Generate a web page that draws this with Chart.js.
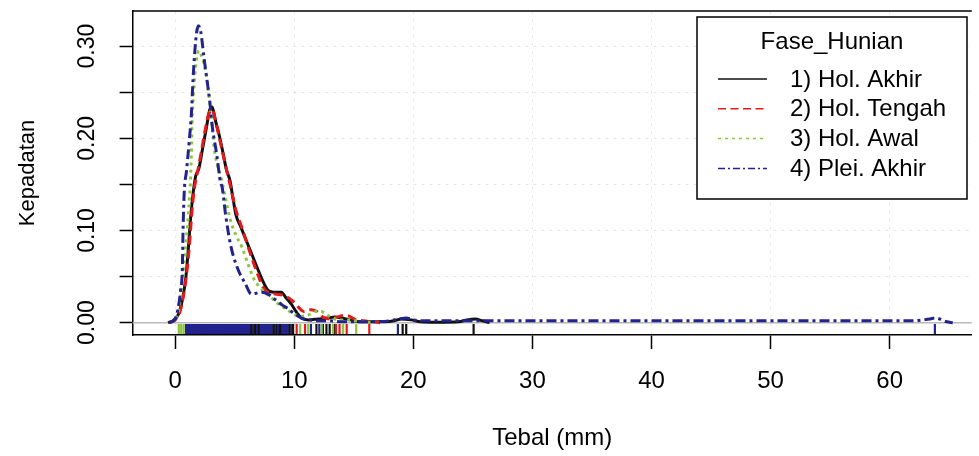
<!DOCTYPE html>
<html>
<head>
<meta charset="utf-8">
<script src="https://cdn.jsdelivr.net/npm/chart.js@4.4.0/dist/chart.umd.min.js"></script>
<style>
  html, body { margin: 0; padding: 0; background: #fff; }
  #wrap { width: 979px; height: 456px; }
</style>
</head>
<body>
<div id="wrap"><canvas id="densityChart" width="979" height="456"></canvas></div>
<script>
// tick values dan label sumbu
const xTickValues = [0, 10, 20, 30, 40, 50, 60];
const xTickLabels = ["0", "10", "20", "30", "40", "50", "60"];
const yTickValues = [0, 0.05, 0.10, 0.15, 0.20, 0.25, 0.30];
const yTickLabels = ["0.00", "", "0.10", "", "0.20", "", "0.30"];

const legendTitle = "Fase_Hunian";
const seriesNames = ["1) Hol. Akhir", "2) Hol. Tengah", "3) Hol. Awal", "4) Plei. Akhir"];

// kurva densitas
const akhirX = [-0.6, -0.2, 0.3, 0.6, 0.9, 1.1, 1.3, 1.5, 1.7, 2.0, 2.3, 2.6, 2.9, 3.1, 3.4, 3.7, 4.0, 4.3, 4.6, 4.85, 5.1, 5.5, 6.0, 6.5, 7.0, 7.4, 7.8, 8.3, 8.9, 9.3, 9.75, 10.2, 10.6, 11.2, 12.0, 12.8, 13.4, 14.0, 14.7, 15.5, 16.5, 17.6, 18.4, 19.0, 19.8, 20.6, 22.0, 23.8, 24.5, 25.2, 25.8, 26.4];
const akhirY = [0, 0.002, 0.010, 0.025, 0.050, 0.080, 0.115, 0.140, 0.158, 0.168, 0.189, 0.210, 0.231, 0.234, 0.218, 0.203, 0.185, 0.166, 0.154, 0.135, 0.117, 0.104, 0.088, 0.072, 0.056, 0.044, 0.035, 0.033, 0.033, 0.027, 0.020, 0.011, 0.005, 0.003, 0.004, 0.005, 0.006, 0.005, 0.003, 0.001, 0.001, 0.001, 0.002, 0.004, 0.003, 0.001, 0.0005, 0.001, 0.003, 0.004, 0.002, 0];

const tengahX = [-0.5, 0.0, 0.4, 0.7, 1.0, 1.2, 1.4, 1.6, 1.9, 2.2, 2.5, 2.8, 3.1, 3.4, 3.8, 4.2, 4.6, 5.1, 5.6, 6.1, 6.6, 7.0, 7.3, 7.8, 8.4, 9.0, 9.5, 9.9, 10.4, 10.8, 11.4, 11.9, 12.4, 13.0, 13.6, 14.2, 14.6, 15.2, 15.8, 16.5, 17.2];
const tengahY = [0, 0.003, 0.012, 0.030, 0.058, 0.085, 0.120, 0.145, 0.165, 0.186, 0.208, 0.226, 0.231, 0.218, 0.195, 0.172, 0.150, 0.122, 0.103, 0.083, 0.064, 0.050, 0.040, 0.033, 0.031, 0.030, 0.027, 0.023, 0.016, 0.012, 0.014, 0.012, 0.006, 0.004, 0.006, 0.008, 0.007, 0.003, 0.002, 0.001, 0];

const awalX = [-0.4, 0.0, 0.33, 0.55, 0.75, 1.0, 1.2, 1.3, 1.35, 1.44, 1.58, 1.75, 2.0, 2.2, 2.56, 2.83, 3.05, 3.25, 3.5, 3.8, 4.2, 4.64, 5.1, 5.6, 6.1, 6.7, 7.0, 7.5, 8.0, 8.4, 8.9, 9.4, 9.75, 10.2, 10.7, 11.3, 11.8, 12.25, 12.8, 13.4, 14.0, 14.6, 15.2, 15.8, 16.4];
const awalY = [0, 0.004, 0.016, 0.040, 0.064, 0.100, 0.135, 0.160, 0.181, 0.225, 0.257, 0.282, 0.295, 0.290, 0.272, 0.247, 0.220, 0.192, 0.173, 0.160, 0.136, 0.111, 0.095, 0.082, 0.064, 0.045, 0.040, 0.033, 0.028, 0.023, 0.018, 0.014, 0.011, 0.008, 0.007, 0.009, 0.012, 0.012, 0.008, 0.004, 0.003, 0.003, 0.002, 0.001, 0];

const pleiX = [-0.5, 0.0, 0.2, 0.45, 0.6, 0.65, 0.75, 0.95, 1.17, 1.35, 1.5, 1.65, 1.8, 1.95, 2.15, 2.42, 2.69, 2.9, 3.1, 3.5, 3.8, 3.94, 4.22, 4.64, 5.2, 5.9, 6.4, 6.8, 7.25, 7.8, 8.5, 9.0, 9.5, 10.06, 10.6, 11.3, 12.0, 13.0, 14.0, 16.0, 18.0, 18.8, 19.4, 20.0, 21.0, 23.0, 26.0, 40.0, 55.0, 62.0, 62.8, 63.4, 63.8, 64.2, 64.8, 65.3];
const pleiY = [0, 0.004, 0.013, 0.035, 0.060, 0.096, 0.140, 0.165, 0.196, 0.225, 0.265, 0.295, 0.315, 0.322, 0.315, 0.287, 0.261, 0.240, 0.214, 0.181, 0.152, 0.147, 0.118, 0.085, 0.060, 0.042, 0.031, 0.032, 0.033, 0.031, 0.024, 0.019, 0.015, 0.009, 0.005, 0.003, 0.002, 0.002, 0.001, 0.001, 0.002, 0.004, 0.005, 0.003, 0.002, 0.002, 0.002, 0.002, 0.002, 0.002, 0.003, 0.004, 0.005, 0.004, 0.001, 0];

// rug (pengamatan)
const akhirRug = [6.4, 6.7, 7.0, 8.25, 8.5, 8.8, 9.6, 9.9, 11.86, 12.4, 12.7, 12.97, 13.4, 19.1, 19.4, 25.06];
const tengahRug = [10.2, 10.9, 13.5, 13.8, 14.4, 16.3];
const awalRug = [0.3, 0.5, 0.7, 10.5, 11.17, 12.3, 13.25, 14.1, 15.2];
const pleiRug = [0.9, 1.0, 1.1, 1.2, 1.3, 1.4, 1.5, 1.6, 1.7, 1.8, 1.9, 2.0, 2.1, 2.2, 2.3, 2.4, 2.5, 2.6, 2.7, 2.8, 2.9, 3.0, 3.1, 3.2, 3.3, 3.4, 3.5, 3.6, 3.7, 3.8, 3.9, 4.0, 4.1, 4.2, 4.3, 4.4, 4.5, 4.6, 4.7, 4.8, 4.9, 5.0, 5.1, 5.2, 5.3, 5.4, 5.5, 5.6, 5.7, 5.8, 5.9, 6.0, 6.1, 6.2, 6.3, 6.55, 6.85, 7.1, 7.2, 7.3, 7.4, 7.5, 7.6, 7.7, 7.8, 7.9, 8.0, 8.1, 8.35, 8.65, 8.95, 9.05, 9.15, 9.25, 9.35, 9.45, 9.75, 11.4, 12.1, 18.7, 63.8];
const RUG_Y = -0.0069;

const FONT = "'Liberation Sans', Arial, sans-serif";
const colors = ["#111111", "#e3191c", "#8cc63f", "#23238e"];

const toPoints = (xs, ys) => xs.map((x, i) => ({ x: x, y: ys[i] }));
const toRug = (xs) => xs.map((x) => ({ x: x, y: RUG_Y }));

function rugSet(data, color, order) {
    return {
        data: toRug(data),
        showLine: false,
        pointStyle: "line",
        pointRotation: 90,
        pointRadius: 5,
        pointHoverRadius: 5,
        pointBorderWidth: 2.2,
        pointBorderColor: color,
        borderColor: color,
        order: order,
        isRug: true,
    };
}

// bingkai plot + garis nol
const framePlugin = {
    id: "frame",
    beforeDatasetsDraw(chart) {
        const { ctx, chartArea } = chart;
        const y0 = chart.scales.y.getPixelForValue(0);
        ctx.save();
        ctx.strokeStyle = "#b8b8b8";
        ctx.lineWidth = 1.5;
        ctx.beginPath();
        ctx.moveTo(chartArea.left, y0);
        ctx.lineTo(chartArea.right, y0);
        ctx.stroke();
        ctx.restore();
    },
    afterDraw(chart) {
        const { ctx, chartArea } = chart;
        ctx.save();
        ctx.strokeStyle = "#000";
        ctx.lineWidth = 1.5;
        ctx.beginPath();
        ctx.moveTo(chartArea.left, chartArea.top);
        ctx.lineTo(chartArea.right, chartArea.top);
        ctx.stroke();
        ctx.restore();
    },
};

// legenda di dalam plot
const legendBox = {
    id: "legendBox",
    afterDraw(chart) {
        const ctx = chart.ctx;
        const box = { left: 697, top: 17, right: 967, bottom: 199 };
        ctx.save();
        ctx.fillStyle = "#fff";
        ctx.fillRect(box.left, box.top, box.right - box.left, box.bottom - box.top);
        ctx.strokeStyle = "#000";
        ctx.lineWidth = 1.5;
        ctx.strokeRect(box.left, box.top, box.right - box.left, box.bottom - box.top);

        ctx.fillStyle = "#000";
        ctx.font = "24px " + FONT;
        ctx.textAlign = "center";
        ctx.textBaseline = "middle";
        ctx.fillText(legendTitle, (box.left + box.right) / 2, 42);

        ctx.textAlign = "left";
        chart.data.datasets.filter((d) => !d.isRug).forEach((ds, i) => {
            const y = 79 + i * 29.8;
            ctx.strokeStyle = ds.borderColor;
            ctx.lineWidth = 1.5;
            ctx.setLineDash(ds.legendDash);
            ctx.beginPath();
            ctx.moveTo(718, y);
            ctx.lineTo(767, y);
            ctx.stroke();
            ctx.setLineDash([]);
            ctx.fillStyle = "#000";
            ctx.fillText(ds.label, 790, y + 1);
        });
        ctx.restore();
    },
};

const ctx = document.getElementById("densityChart").getContext("2d");
new Chart(ctx, {
    type: "line",
    data: {
        datasets: [
            {
                label: seriesNames[0],
                data: toPoints(akhirX, akhirY),
                borderColor: colors[0],
                borderWidth: 3,
                borderDash: [],
                legendDash: [],
                order: 4,
            },
            {
                label: seriesNames[1],
                data: toPoints(tengahX, tengahY),
                borderColor: colors[1],
                borderWidth: 3,
                borderDash: [9, 5],
                legendDash: [8, 4.5],
                order: 3,
            },
            {
                label: seriesNames[2],
                data: toPoints(awalX, awalY),
                borderColor: colors[2],
                borderWidth: 3,
                borderDash: [3, 4],
                legendDash: [3, 4],
                order: 2,
            },
            {
                label: seriesNames[3],
                data: toPoints(pleiX, pleiY),
                borderColor: colors[3],
                borderWidth: 3,
                borderDash: [10, 4, 3, 4],
                legendDash: [7, 3, 2, 3],
                order: 1,
            },
            rugSet(pleiRug, colors[3], 8),
            rugSet(akhirRug, colors[0], 7),
            rugSet(tengahRug, colors[1], 6),
            rugSet(awalRug, colors[2], 5),
        ],
    },
    options: {
        responsive: false,
        animation: false,
        layout: { padding: { top: 11, left: 0, right: 0, bottom: 0 } },
        elements: {
            line: { tension: 0.3, cubicInterpolationMode: "monotone", fill: false },
            point: { radius: 0 },
        },
        plugins: {
            legend: { display: false },
            tooltip: { enabled: false },
        },
        scales: {
            x: {
                type: "linear",
                min: -3.58,
                max: 66.9,
                afterBuildTicks: (s) => {
                    s.ticks = xTickValues.map((v) => ({ value: v }));
                },
                border: { display: true, color: "#000", width: 1.5, dash: [3, 5] },
                grid: {
                    color: "rgba(0,0,0,0.08)",
                    tickLength: 14,
                    tickColor: "#000",
                    tickWidth: 1.5,
                    tickBorderDash: [],
                },
                ticks: {
                    color: "#000",
                    font: { family: FONT, size: 24 },
                    padding: 18,
                    minRotation: 0,
                    maxRotation: 0,
                    autoSkip: false,
                    callback: (v, i) => xTickLabels[i],
                },
                title: {
                    display: true,
                    text: "Tebal (mm)",
                    color: "#000",
                    font: { family: FONT, size: 24 },
                    padding: { top: 9.8, bottom: 3.6 },
                },
            },
            y: {
                type: "linear",
                min: -0.0134,
                max: 0.3381,
                afterBuildTicks: (s) => {
                    s.ticks = yTickValues.map((v) => ({ value: v }));
                },
                afterFit: (s) => {
                    s.paddingTop = 0;
                    s.paddingBottom = 0;
                },
                border: { display: true, color: "#000", width: 1.5, dash: [3, 5] },
                grid: {
                    color: "rgba(0,0,0,0.10)",
                    tickLength: 13,
                    tickColor: "#000",
                    tickWidth: 1.5,
                    tickBorderDash: [],
                },
                ticks: {
                    color: "#000",
                    font: { family: FONT, size: 23 },
                    padding: 9.6,
                    minRotation: 90,
                    maxRotation: 90,
                    crossAlign: "center",
                    autoSkip: false,
                    callback: (v, i) => yTickLabels[i],
                },
                title: {
                    display: true,
                    text: "Kepadatan",
                    color: "#000",
                    font: { family: FONT, size: 22 },
                    padding: { top: 14.8, bottom: 31.6 },
                },
            },
        },
    },
    plugins: [framePlugin, legendBox],
});
</script>
</body>
</html>
